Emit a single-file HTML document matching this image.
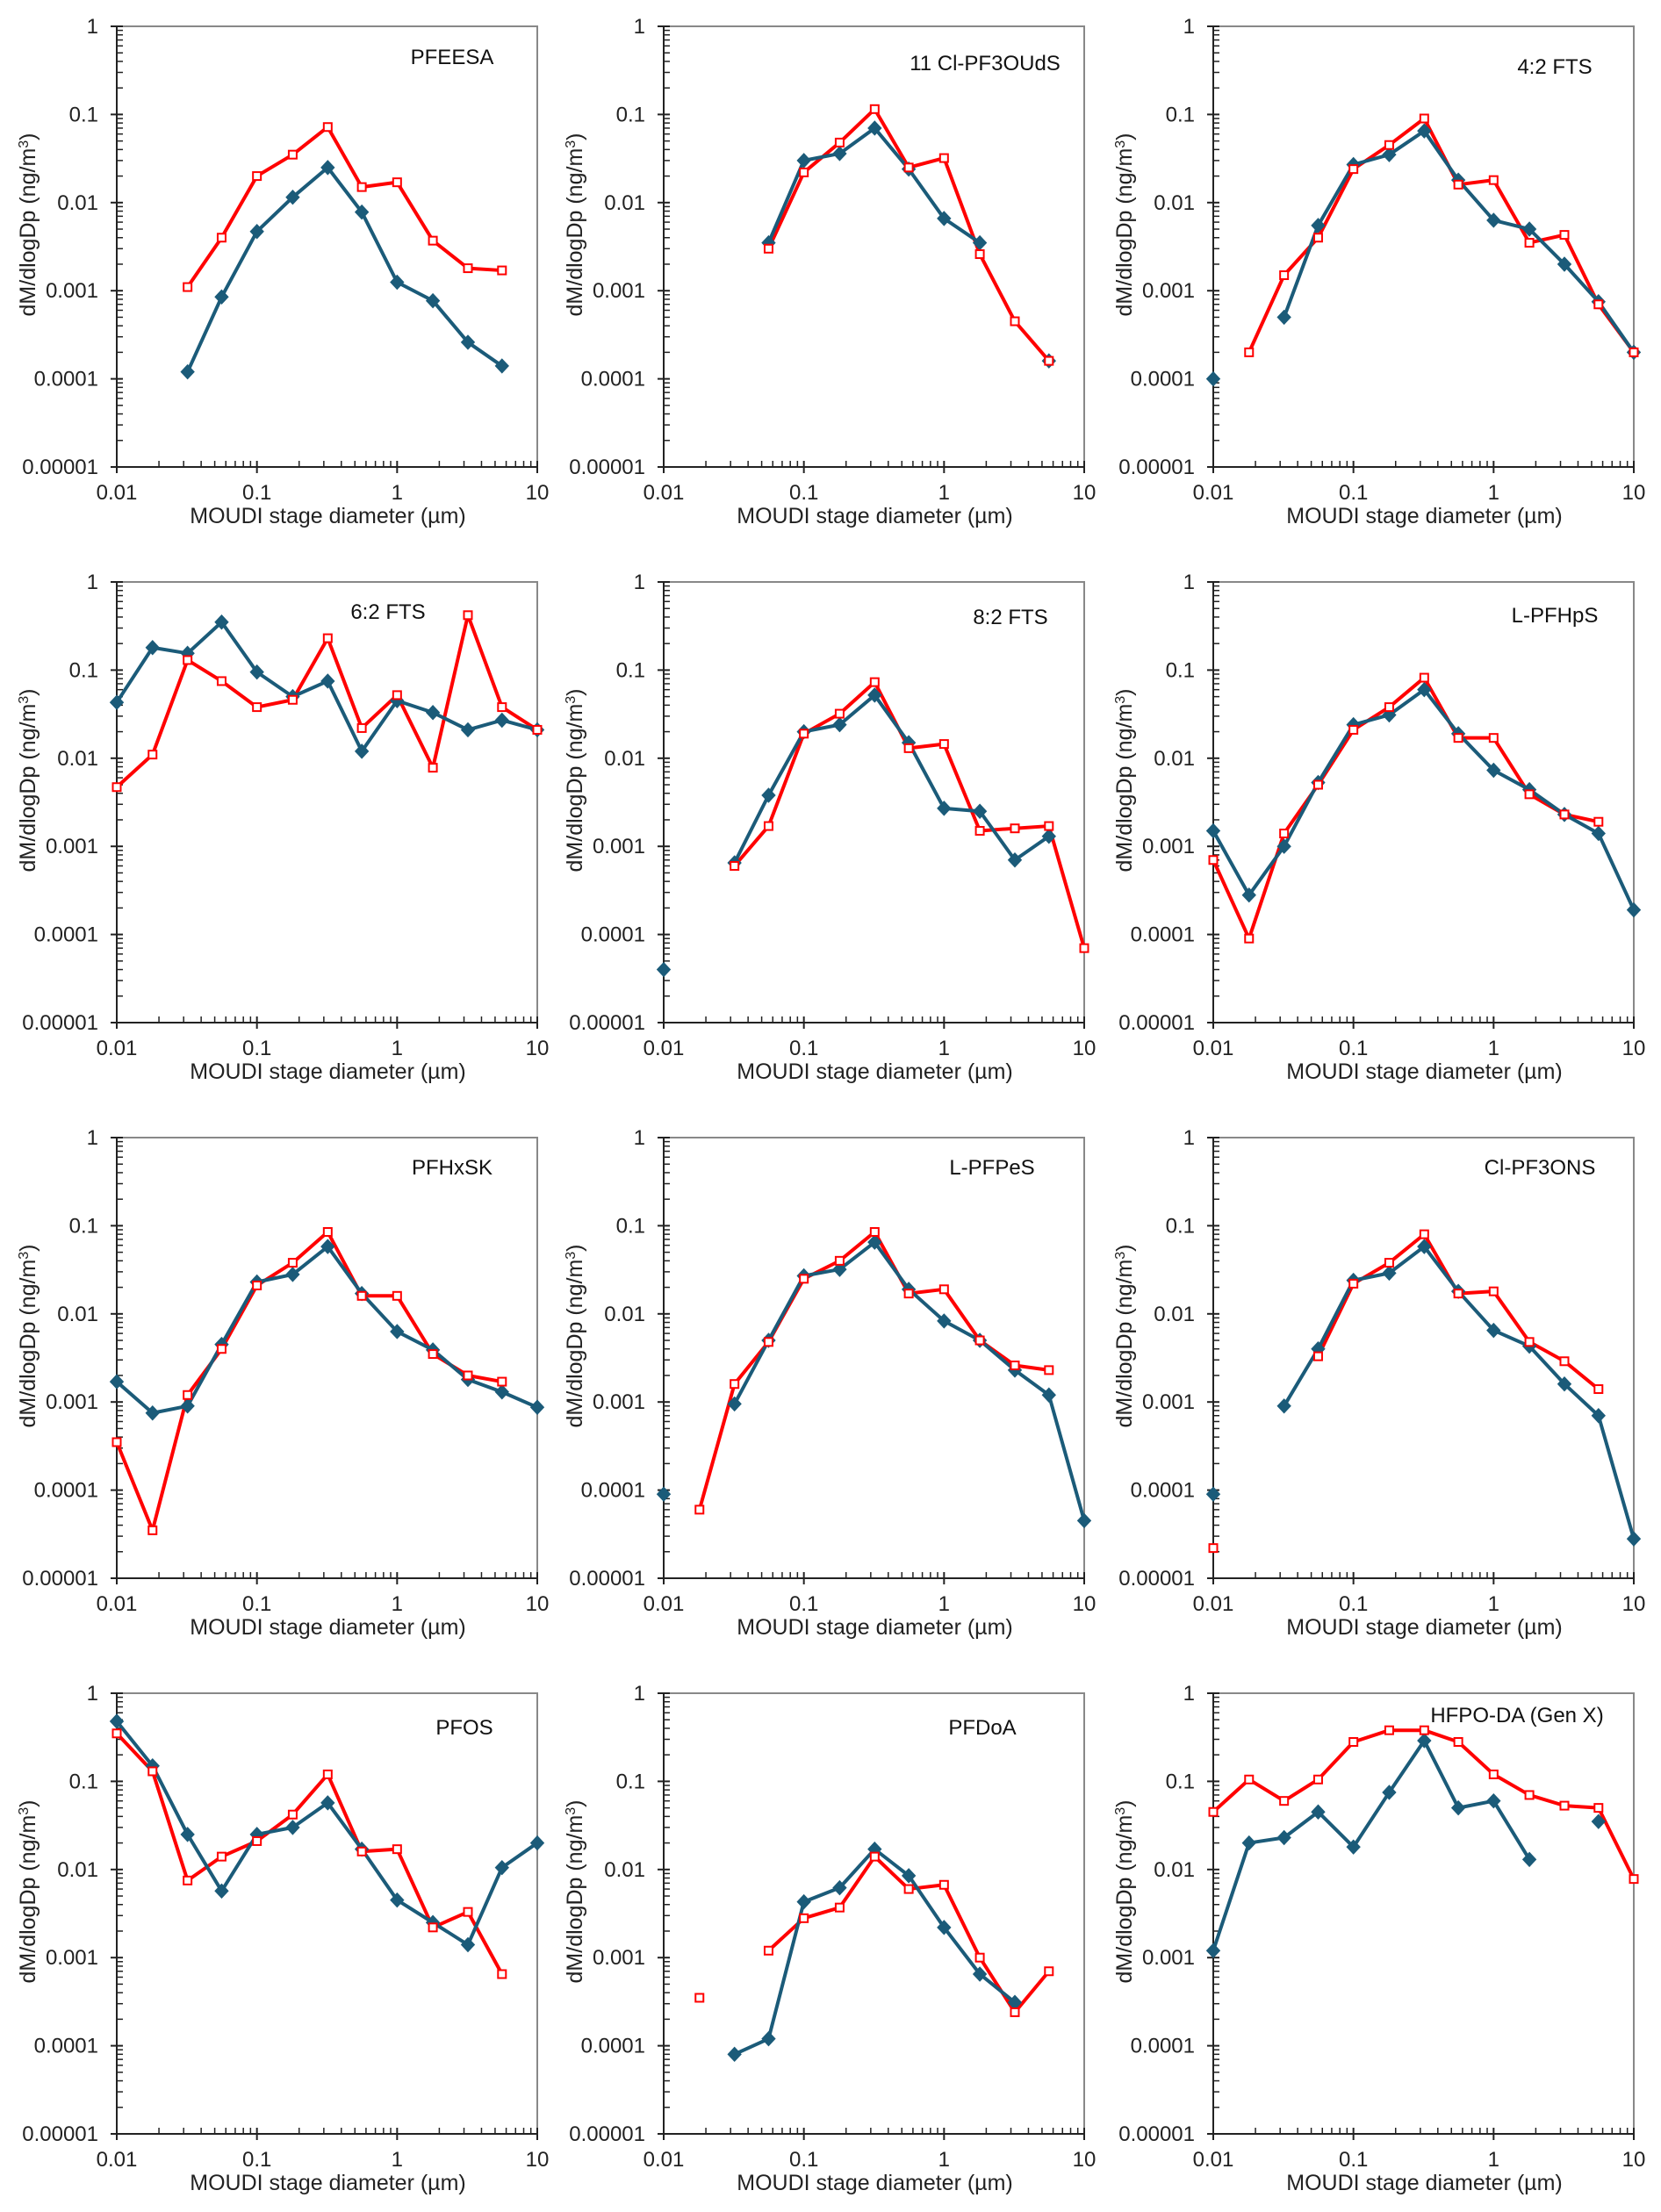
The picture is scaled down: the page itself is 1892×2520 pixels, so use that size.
<!DOCTYPE html>
<html><head><meta charset="utf-8"><style>
html,body{margin:0;padding:0;background:#fff;}
svg{display:block;font-family:"Liberation Sans",Arial,sans-serif;}
</style></head><body>
<svg id="fig" width="1892" height="2520" viewBox="0 0 1892 2520" xmlns="http://www.w3.org/2000/svg"></svg>
<script>
const stages = [0.01,0.018,0.032,0.056,0.1,0.18,0.32,0.56,1.0,1.8,3.2,5.6,10];
const titles = ["PFEESA","11 Cl-PF3OUdS","4:2 FTS","6:2 FTS","8:2 FTS","L-PFHpS","PFHxSK","L-PFPeS","Cl-PF3ONS","PFOS","PFDoA","HFPO-DA (Gen X)"];
const N = null;
const redSeries = [
 [N,N,0.0011,0.004,0.02,0.035,0.072,0.015,0.017,0.0037,0.0018,0.0017,N],
 [N,N,N,0.003,0.022,0.048,0.115,0.025,0.032,0.0026,0.00045,0.00016,N],
 [N,0.0002,0.0015,0.004,0.024,0.045,0.09,0.016,0.018,0.0035,0.0043,0.0007,0.0002],
 [0.0047,0.011,0.13,0.075,0.038,0.046,0.23,0.022,0.052,0.0078,0.42,0.038,0.021],
 [N,N,0.0006,0.0017,0.019,0.032,0.073,0.013,0.0145,0.0015,0.0016,0.0017,0.00007],
 [0.0007,0.00009,0.0014,0.005,0.021,0.038,0.082,0.017,0.017,0.0039,0.0023,0.0019,N],
 [0.00035,0.000035,0.0012,0.004,0.021,0.038,0.085,0.016,0.016,0.0035,0.002,0.0017,N],
 [N,0.00006,0.0016,0.0048,0.025,0.04,0.085,0.017,0.019,0.005,0.0026,0.0023,N],
 [0.000022,N,N,0.0033,0.022,0.038,0.08,0.017,0.018,0.0048,0.0029,0.0014,N],
 [0.35,0.13,0.0075,0.014,0.021,0.042,0.12,0.016,0.017,0.0022,0.0033,0.00065,N],
 [N,0.00035,N,0.0012,0.0028,0.0037,0.014,0.006,0.0067,0.001,0.00024,0.0007,N],
 [0.045,0.105,0.06,0.105,0.28,0.38,0.38,0.28,0.12,0.07,0.053,0.05,0.0078]
];
const blueSeries = [
 [N,N,0.00012,0.00085,0.0047,0.0115,0.025,0.0078,0.00125,0.00077,0.00026,0.00014,N],
 [N,N,N,0.0035,0.03,0.036,0.07,0.024,0.0066,0.0035,N,0.00016,N],
 [0.0001,N,0.0005,0.0055,0.027,0.035,0.065,0.018,0.0063,0.005,0.002,0.00075,0.0002],
 [0.043,0.18,0.155,0.35,0.095,0.05,0.075,0.012,0.045,0.033,0.021,0.027,0.021],
 [0.00004,N,0.00065,0.0038,0.02,0.024,0.052,0.015,0.0027,0.0025,0.0007,0.0013,N],
 [0.0015,0.00028,0.001,0.0053,0.024,0.031,0.06,0.019,0.0073,0.0044,0.0023,0.0014,0.00019],
 [0.0017,0.00075,0.0009,0.0045,0.023,0.028,0.058,0.017,0.0063,0.0039,0.0018,0.0013,0.00087],
 [0.00009,N,0.00095,0.005,0.027,0.032,0.065,0.019,0.0083,0.005,0.0023,0.0012,0.000045],
 [0.00009,N,0.0009,0.004,0.024,0.029,0.058,0.018,0.0065,0.0043,0.0016,0.0007,0.000028],
 [0.48,0.15,0.025,0.0057,0.025,0.03,0.057,0.017,0.0045,0.0025,0.0014,0.0105,0.02],
 [N,N,0.00008,0.00012,0.0043,0.0062,0.017,0.0085,0.0022,0.00065,0.00031,N,N],
 [0.0012,0.02,0.023,0.045,0.018,0.075,0.29,0.05,0.06,0.013,N,0.035,N]
];
const yTickLabels = ["1","0.1","0.01","0.001","0.0001","0.00001"];
const xTickLabels = ["0.01","0.1","1","10"];
const titlePos = [[515,64],[1122,71],[1771,75],[442,696],[1151,702],[1771,700],[515,1329],[1130,1329],[1754,1329],[529,1967],[1119,1967],[1728,1953]];

const svg = document.getElementById('fig');
const NS = "http://www.w3.org/2000/svg";
function mk(tag, attrs, parent){const e=document.createElementNS(NS,tag);for(const k in attrs)e.setAttribute(k,attrs[k]);(parent||svg).appendChild(e);return e;}
const colL=[133,756,1382], rowT=[30,663,1296,1929], W=479, H=502;
const RED="#ff0000", BLUE="#1b5b79";

titles.forEach((t,i)=>{
  const L=colL[i%3], T=rowT[Math.floor(i/3)], R=L+W, B=T+H;
  const g=mk('g',{});
  
  
  const xs=v=>L+(Math.log10(v)+2)/3*W;
  const ys=v=>T+(0-Math.log10(v))/5*H;
  const fr=mk('rect',{x:L,y:T,width:W,height:H,fill:'none',stroke:'#888',"stroke-width":2},g);
  
  
  mk('line',{x1:L,y1:T,x2:L,y2:B,stroke:'#222',"stroke-width":2},g);
  mk('line',{x1:L,y1:B,x2:R,y2:B,stroke:'#222',"stroke-width":2},g);
  for(let d=0;d<=5;d++){
    const v=Math.pow(10,-d), y=ys(v);
    mk('line',{x1:L-7,y1:y,x2:L+7,y2:y,stroke:'#222',"stroke-width":2},g);
    const lb=mk('text',{x:L-21,y:y+8,"text-anchor":"end","font-size":24,fill:'#222'},g);
    lb.textContent=yTickLabels[d];
    
    
    if(d<5){for(let m=2;m<=9;m++){const yy=ys(v/10*m);mk('line',{x1:L,y1:yy,x2:L+7,y2:yy,stroke:'#222',"stroke-width":1.5},g);}}
  }
  for(let d=0;d<=3;d++){
    const v=0.01*Math.pow(10,d), x=xs(v);
    mk('line',{x1:x,y1:B-7,x2:x,y2:B+7,stroke:'#222',"stroke-width":2},g);
    const lb=mk('text',{x:x,y:B+37,"text-anchor":"middle","font-size":24,fill:'#222'},g);
    lb.textContent=xTickLabels[d];
    
    
    if(d<3){for(let m=2;m<=9;m++){const xx=xs(v*m);mk('line',{x1:xx,y1:B,x2:xx,y2:B-7,stroke:'#222',"stroke-width":1.5},g);}}
  }
  const xt=mk('text',{x:L+W/2+1,y:B+64,"text-anchor":"middle","font-size":25,fill:'#222'},g);
  xt.textContent="MOUDI stage diameter  (µm)";
  
  
  const yt=mk('text',{x:0,y:0,"text-anchor":"middle","font-size":25,fill:'#222',transform:`translate(${L-93},${T+H/2-25}) rotate(-90)`},g);
  yt.innerHTML='dM/dlogDp  (ng/m<tspan dy="-8" font-size="16">3</tspan><tspan dy="8">)</tspan>';
  
  
  const tt=mk('text',{x:titlePos[i][0],y:titlePos[i][1]+9,"text-anchor":"middle","font-size":24,fill:'#111'},g);
  tt.textContent=t;
  
  
  function drawLine(arr,color,name){
    let seg=[];
    const segs=[];
    arr.forEach((v,k)=>{if(v==null){if(seg.length)segs.push(seg);seg=[];}else seg.push([xs(stages[k]),ys(v)]);});
    if(seg.length)segs.push(seg);
    segs.forEach(s=>{if(s.length>1){const p=mk('polyline',{points:s.map(q=>q.join(',')).join(' '),fill:'none',stroke:color,"stroke-width":4,"stroke-linejoin":"round"},g);
      
      }});
  }
  drawLine(redSeries[i],RED,'red-series');
  drawLine(blueSeries[i],BLUE,'blue-series');
  blueSeries[i].forEach((v,k)=>{if(v==null)return;const x=xs(stages[k]),y=ys(v);
    const p=mk('polygon',{points:`${x},${y-8} ${x+7.5},${y} ${x},${y+8} ${x-7.5},${y}`,fill:BLUE,stroke:BLUE,"stroke-width":1},g);
    
    });
  redSeries[i].forEach((v,k)=>{if(v==null)return;const x=xs(stages[k]),y=ys(v);
    const p=mk('rect',{x:x-4.5,y:y-4.5,width:9,height:9,fill:'#fff',stroke:RED,"stroke-width":2},g);
    
    });
});
</script>
</body></html>
